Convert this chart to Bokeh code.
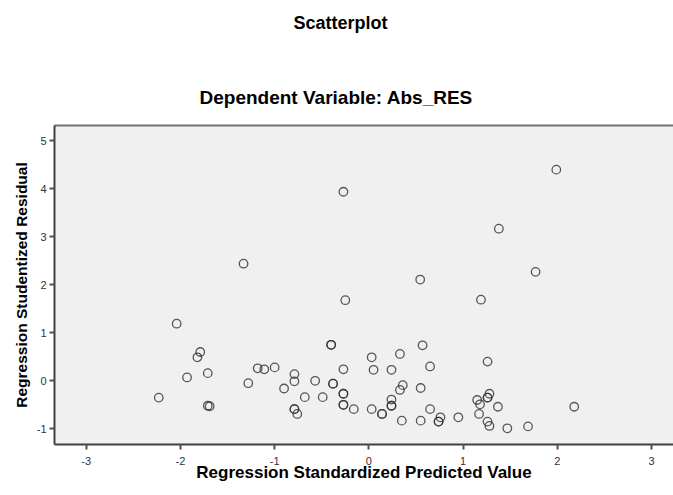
from bokeh.plotting import figure
from bokeh.models import Range1d, FixedTicker, Title, ColumnDataSource, LinearAxis
from bokeh.embed import file_html
from bokeh.resources import INLINE

predicted = [
    -2.23, -2.04, -1.93, -1.82, -1.79, -1.71, -1.71, -1.69, -1.33, -1.28,
    -1.18, -1.11, -1.00, -0.90, -0.79, -0.79, -0.79, -0.79, -0.76, -0.68,
    -0.57, -0.49, -0.40, -0.40, -0.38, -0.38, -0.27, -0.25, -0.27, -0.27,
    -0.27, -0.27, -0.27, -0.16, 0.03, 0.05, 0.03, 0.14, 0.14, 0.24,
    0.24, 0.24, 0.24, 0.33, 0.36, 0.33, 0.35, 0.545, 0.55, 0.57,
    0.55, 0.65, 0.65, 0.76, 0.74, 0.74, 0.95, 1.15, 1.18, 1.17,
    1.19, 1.26, 1.28, 1.26, 1.26, 1.37, 1.38, 1.26, 1.28, 1.47,
    1.69, 1.77, 1.99, 2.18,
]
residual = [
    -0.35, 1.19, 0.07, 0.49, 0.60, 0.16, -0.52, -0.53, 2.44, -0.05,
    0.26, 0.24, 0.28, -0.16, 0.14, -0.01, -0.59, -0.59, -0.69, -0.34,
    0.00, -0.34, 0.75, 0.75, -0.06, -0.06, 3.94, 1.68, 0.24, -0.27,
    -0.27, -0.50, -0.50, -0.59, 0.49, 0.23, -0.59, -0.69, -0.69, 0.23,
    -0.39, -0.52, -0.52, 0.56, -0.09, -0.19, -0.83, 2.11, -0.15, 0.74,
    -0.83, 0.30, -0.59, -0.76, -0.85, -0.85, -0.76, -0.40, -0.49, -0.69,
    1.69, 0.40, -0.27, -0.35, -0.35, -0.54, 3.17, -0.85, -0.94, -0.99,
    -0.95, 2.27, 4.40, -0.54,
]
x_ticks = [-3, -2, -1, 0, 1, 2, 3]
y_ticks = [-1, 0, 1, 2, 3, 4, 5]

title_text = "Scatterplot"
subtitle_text = "Dependent Variable: Abs_RES"
x_label = "Regression Standardized Predicted Value"
y_label = "Regression Studentized Residual"

FONT = "Liberation Sans"

p = figure(
    frame_width=619, frame_height=319,
    output_backend="svg", toolbar_location=None, title_location=None,
    x_range=Range1d(-3.337, 3.234), y_range=Range1d(-1.327, 5.32),
    min_border_left=54, min_border_right=0, min_border_top=125, min_border_bottom=35,
)
p.background_fill_color = "#F0F0F0"
p.border_fill_color = "white"
p.outline_line_color = None
p.xgrid.visible = False
p.ygrid.visible = False

for ax in (p.xaxis[0], p.yaxis[0]):
    ax.axis_line_color = "#404040"
    ax.axis_line_width = 2
    ax.major_tick_line_color = "#505050"
    ax.major_tick_line_width = 2
    ax.major_tick_out = 5
    ax.major_tick_in = 0
    ax.minor_tick_line_color = None
    ax.major_label_text_font = FONT
    ax.major_label_text_font_size = "11px"
    ax.major_label_text_color = "#333333"
    ax.axis_label_text_font = FONT
    ax.axis_label_text_font_style = "bold"
    ax.axis_label_text_color = "black"

p.xaxis[0].ticker = FixedTicker(ticks=x_ticks)
p.yaxis[0].ticker = FixedTicker(ticks=y_ticks)
p.xaxis[0].major_label_overrides = {t: str(t) for t in x_ticks}
p.yaxis[0].major_label_overrides = {t: str(t) for t in y_ticks}
p.xaxis[0].axis_label = x_label
p.yaxis[0].axis_label = y_label
p.xaxis[0].axis_label_text_font_size = "17px"
p.yaxis[0].axis_label_text_font_size = "15.5px"
p.xaxis[0].major_label_standoff = 7
p.yaxis[0].major_label_standoff = 3
p.xaxis[0].axis_label_standoff = -5
p.yaxis[0].axis_label_standoff = 4

# top border of the frame (no ticks, no labels)
top_border = LinearAxis(ticker=FixedTicker(ticks=[]), major_tick_out=0, major_tick_in=0,
                        minor_tick_line_color=None, major_label_text_font_size="0px",
                        major_label_standoff=0, axis_line_color="#707070", axis_line_width=2)
p.add_layout(top_border, "above")

src = ColumnDataSource(dict(x=predicted, y=residual))
p.scatter("x", "y", source=src, marker="circle", size=8.5,
          fill_color=None, line_color="#303030", line_alpha=0.8, line_width=1.3)

sub = Title(text=subtitle_text, align="left", offset=145, standoff=35,
            vertical_align="bottom", text_font=FONT, text_font_style="bold",
            text_font_size="19px", text_color="black")
p.add_layout(sub, "above")
spacer = Title(text=" ", align="left", offset=0, standoff=17,
               text_font=FONT, text_font_size="10px", text_color="white")
p.add_layout(spacer, "above")
main = Title(text=title_text, align="left", offset=239, standoff=10,
             vertical_align="bottom", text_font=FONT, text_font_style="bold",
             text_font_size="18px", text_color="black")
p.add_layout(main, "above")

open("out.html", "w").write(file_html(p, INLINE))
